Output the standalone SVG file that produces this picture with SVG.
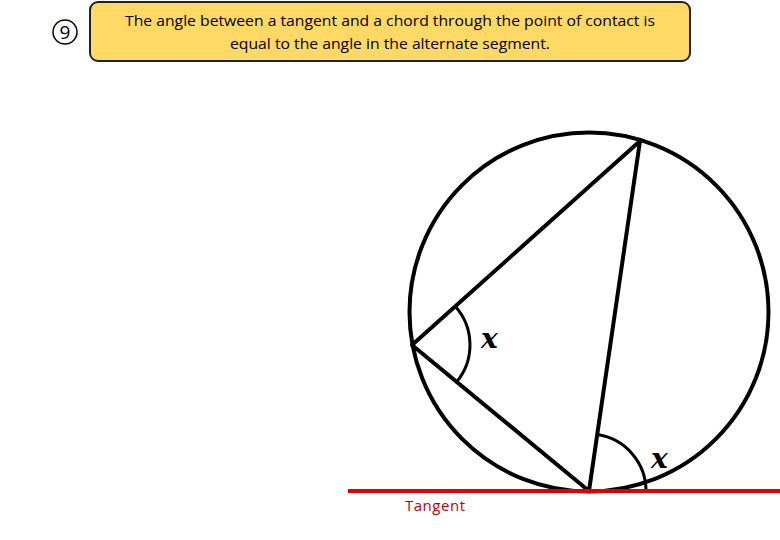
<svg xmlns="http://www.w3.org/2000/svg" width="780" height="540" viewBox="0 0 780 540">
<style>
.hdr{font-family:"Open Sans","Liberation Sans",Arial,sans-serif;font-size:15px;fill:#000;text-anchor:middle}
.ln{stroke:#000;stroke-width:4;fill:none;stroke-linecap:round}
.arc{stroke:#000;stroke-width:3;fill:none}
.x{font-family:"DejaVu Serif","Liberation Serif",serif;font-style:italic;font-weight:bold;font-size:28px;fill:#000}
</style>
<rect width="780" height="540" fill="#fff"/>
<g id="number">
<circle cx="65" cy="32" r="12" fill="none" stroke="#000" stroke-width="1.5"/>
<text x="65" y="39" class="hdr" style="font-size:19px">9</text>
</g>
<g id="header">
<rect x="90" y="2" width="600" height="59" rx="8" fill="#FFD966" stroke="#222" stroke-width="2"/>
<text x="390" y="26" class="hdr" textLength="530" lengthAdjust="spacingAndGlyphs">The angle between a tangent and a chord through the point of contact is</text>
<text x="390" y="49" class="hdr" textLength="320" lengthAdjust="spacingAndGlyphs">equal to the angle in the alternate segment.</text>
</g>
<g id="circle">
<circle cx="589" cy="312" r="179.5" class="ln"/>
</g>
<g id="connectors">
<path d="M412 345 L640 141 L589 491 Z" class="ln" stroke-linejoin="round"/>
<path d="M455.2 306.3 A58 58 0 0 1 456.7 381.9" class="arc"/>
<path d="M597.2 434.6 A57 57 0 0 1 646 491" class="arc"/>
<line x1="348" y1="491" x2="780" y2="491" stroke="#e00000" stroke-width="4"/>
</g>
<g id="labels">
<text x="481" y="348" class="x">x</text>
<text x="651" y="468" class="x">x</text>
<text x="435" y="511" font-family="Open Sans,Liberation Sans,Arial,sans-serif" font-size="15" fill="#c00000" text-anchor="middle" textLength="60">Tangent</text>
</g>
</svg>
